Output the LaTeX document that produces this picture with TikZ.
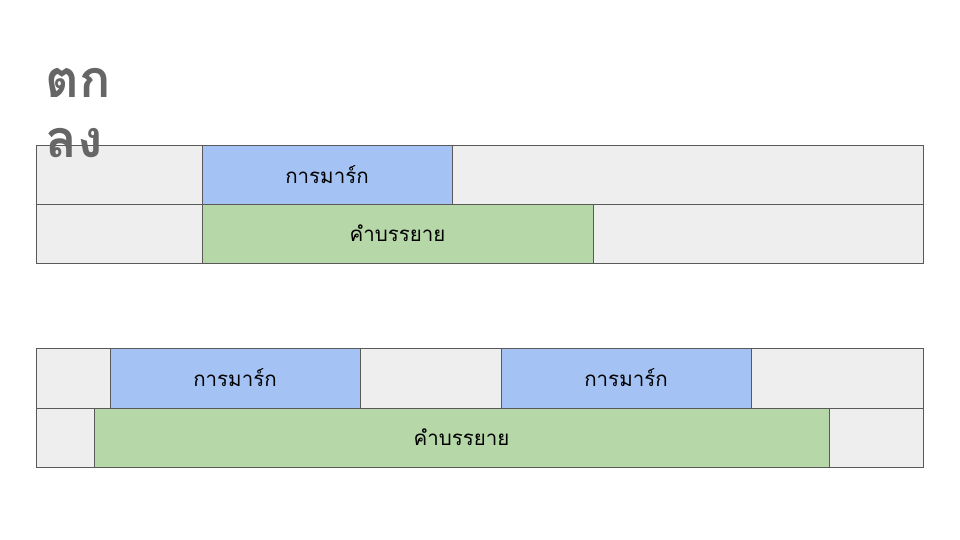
\documentclass[tikz,border=0pt]{standalone}
\usepackage{fontspec}
\newfontfamily\thaifont[Script=Thai]{Loma}
\usetikzlibrary{positioning}
\definecolor{cellgray}{HTML}{EEEEEE}
\definecolor{markblue}{HTML}{A4C2F4}
\definecolor{descgreen}{HTML}{B6D7A8}
\definecolor{edgegray}{HTML}{595959}
\definecolor{titlegray}{HTML}{666666}
\tikzstyle{cell}=[draw=edgegray, line width=0.8pt, minimum height=59pt, inner sep=0pt, outer sep=0pt, font=\thaifont\fontsize{20.5}{24}\selectfont]
\tikzstyle{emptybox}=[cell, fill=cellgray]
\tikzstyle{markbox}=[cell, fill=markblue, minimum width=250pt]
\tikzstyle{descbox}=[cell, fill=descgreen]

\begin{document}
\begin{tikzpicture}[x=1pt, y=-1pt]
  \useasboundingbox (0,0) rectangle (960,540);

  % first strip
  \node[emptybox, minimum width=166pt, anchor=north west] (a1) at (36,145) {};
  \node[markbox]                     (a2) [right=0pt of a1] {การมาร์ก};
  \node[emptybox, minimum width=471pt] (a3) [right=0pt of a2] {};

  \node[emptybox, minimum width=166pt, anchor=north west] (b1) at (36,204) {};
  \node[descbox, minimum width=391pt] (b2) [right=0pt of b1] {คำบรรยาย};
  \node[emptybox, minimum width=330pt] (b3) [right=0pt of b2] {};

  % second strip
  \node[emptybox, minimum width=74pt, minimum height=60pt, anchor=north west] (c1) at (36,348) {};
  \node[markbox, minimum height=60pt]  (c2) [right=0pt of c1] {การมาร์ก};
  \node[emptybox, minimum width=141pt, minimum height=60pt] (c3) [right=0pt of c2] {};
  \node[markbox, minimum height=60pt]  (c4) [right=0pt of c3] {การมาร์ก};
  \node[emptybox, minimum width=172pt, minimum height=60pt] (c5) [right=0pt of c4] {};

  \node[emptybox, minimum width=58pt, anchor=north west] (d1) at (36,408) {};
  \node[descbox, minimum width=735pt] (d2) [right=0pt of d1] {คำบรรยาย};
  \node[emptybox, minimum width=94pt] (d3) [right=0pt of d2] {};

  % heading
  \node[anchor=base west, align=left, text=titlegray,
        font=\thaifont\bfseries\fontsize{52}{60}\selectfont] (title) at (42,158) {ตก\\ลง};
\end{tikzpicture}
\end{document}
